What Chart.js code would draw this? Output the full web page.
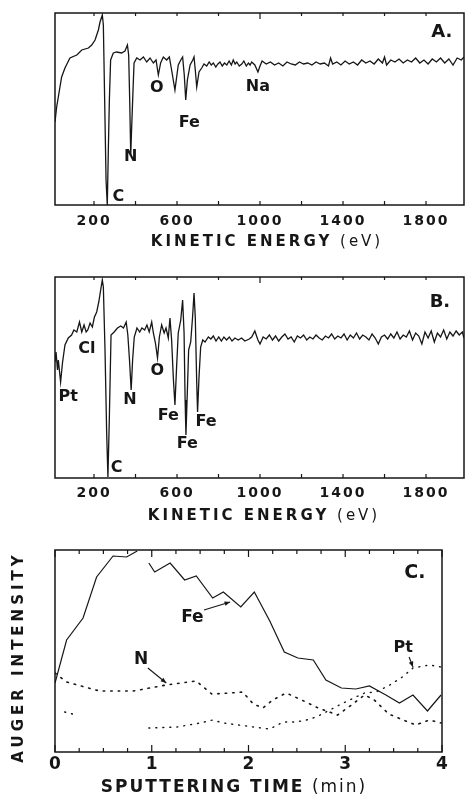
<!DOCTYPE html>
<html><head><meta charset="utf-8">
<script src="https://cdn.jsdelivr.net/npm/chart.js@4.4.1/dist/chart.umd.min.js"></script>
<style>
html,body{margin:0;padding:0;background:#fff;}
#wrap{position:relative;width:465px;height:794px;overflow:hidden;background:#fff;}
canvas{position:absolute;left:0;}
</style></head><body>
<div id="wrap">
<canvas id="cA" width="465" height="255" style="top:0px"></canvas>
<canvas id="cB" width="465" height="270" style="top:255px"></canvas>
<canvas id="cC" width="465" height="269" style="top:525px"></canvas>
</div>
<script>
// ---------------- DATA ----------------
const energyTicks = [200, 600, 1000, 1400, 1800];
const timeTicks = [0, 1, 2, 3, 4];

// Panel A spectrum (kinetic energy eV, dN/dE arbitrary units)
const energyA = [12,20,28,44,60,84,117,141,173,189,205,221,229,240,245,253,258,264,269,274,280,293,309,333,349,361,367,372,377,381,388,393,406,422,438,454,470,486,499,510,521,534,550,563,574,590,606,618,627,635,642,650,663,676,682,688,695,706,719,730,743,755,765,775,787,797,807,818,829,840,851,862,871,880,888,900,912,922,934,944,952,960,975,990,1000,1010,1030,1050,1070,1090,1110,1130,1150,1170,1190,1210,1230,1250,1270,1290,1310,1330,1340,1350,1370,1390,1410,1430,1450,1470,1490,1510,1530,1550,1570,1590,1600,1610,1630,1650,1670,1690,1710,1730,1750,1770,1790,1810,1830,1850,1870,1890,1910,1930,1950,1970,1983];
const intensityA = [83,98,108,128,137,147,150,155,157,160,165,175,183,190,180,85,25,0,55,105,145,152,153,152,154,160,150,105,50,75,115,142,147,145,148,143,147,142,145,130,142,148,145,148,135,115,140,145,148,130,105,125,140,145,148,135,118,133,137,141,139,143,140,142,138,141,143,139,142,140,144,140,145,141,143,139,141,144,139,142,140,143,140,133,139,144,141,143,140,142,139,143,141,140,143,141,142,140,143,141,142,139,147,141,143,140,144,141,143,140,145,142,144,141,146,142,148,140,145,143,146,142,145,143,147,142,145,141,146,143,147,142,146,140,147,145,148];

// Panel B spectrum
const energyB = [12,17,24,28,39,48,60,76,92,103,117,130,141,152,162,170,181,192,202,213,223,232,240,245,253,261,267,274,282,297,313,329,342,355,363,371,379,386,394,407,420,431,444,455,466,478,486,496,506,515,526,538,547,558,566,574,582,590,598,606,618,627,634,639,643,650,656,666,675,682,688,695,699,706,714,724,735,751,763,775,788,801,814,826,839,852,865,879,895,911,927,948,960,975,990,1000,1015,1030,1045,1060,1075,1090,1105,1120,1135,1150,1165,1180,1195,1210,1225,1240,1255,1270,1285,1300,1315,1330,1345,1360,1375,1390,1405,1420,1435,1450,1465,1480,1495,1510,1525,1540,1555,1570,1585,1600,1615,1630,1645,1660,1675,1690,1705,1720,1735,1750,1765,1780,1795,1810,1825,1840,1855,1870,1885,1900,1915,1930,1945,1960,1975,1983];
const intensityB = [116,126,108,118,96,115,133,140,143,148,146,156,146,153,146,148,155,151,161,166,176,188,198,191,128,45,1,61,143,146,150,152,150,156,143,118,88,118,141,150,146,150,148,153,146,156,145,135,120,141,153,145,150,140,160,138,101,73,111,145,158,178,145,78,43,88,128,136,161,185,161,95,66,101,131,138,136,141,139,142,137,141,137,141,138,141,137,140,138,140,137,139,141,147,138,134,141,139,143,138,142,137,141,144,139,141,136,142,140,143,138,141,139,143,140,138,142,140,144,139,142,140,144,138,143,140,145,139,143,141,138,144,140,134,141,143,139,144,140,146,139,143,141,147,138,145,142,134,146,140,147,136,145,141,148,139,146,142,147,143,146,140];

// Panel C depth profiles (sputtering time min, Auger intensity arbitrary units)
const timeFe = [0,0.12,0.29,0.43,0.60,0.74,0.85,0.91,0.97,1.03,1.19,1.34,1.46,1.63,1.74,1.92,2.06,2.22,2.37,2.51,2.67,2.80,2.96,3.11,3.25,3.42,3.56,3.70,3.85,3.99];
const feIntensity = [69,112,134,175,196,195,201,null,189,180,189,172,176,154,160,145,160,131,100,94,92,72,64,63,66,57,49,57,41,57];
const timeN = [0,0.12,0.46,0.81,1.15,1.46,1.62,1.81,1.94,2.05,2.15,2.25,2.39,2.55,2.72,2.92,3.05,3.20,3.30,3.45,3.60,3.73,3.87,3.99];
const nIntensity = [79,70,61,61,67,71,58,59,60,48,44,52,59,52,44,37,46,57,52,38,32,27,32,29];
const timePt = [0.10,0.18,0.50,0.97,1.26,1.50,1.63,1.74,1.90,2.05,2.22,2.36,2.49,2.60,2.70,2.84,2.98,3.11,3.20,3.32,3.46,3.59,3.70,3.87,3.99];
const ptIntensity = [40,38,null,24,25,29,32,29,27,25,23,30,30,32,35,42,49,55,59,60,67,75,84,87,85];

// ---------------- DRAWING ----------------
const INK = '#161616';
function pts(xs, ys){ return xs.map((x,i)=>({x:x, y:ys[i]})); }

const decor = {
  id: 'decor',
  beforeDraw(chart, args, o) {
    const ctx = chart.ctx;
    ctx.save(); ctx.fillStyle = '#fff'; ctx.fillRect(0,0,chart.width,chart.height); ctx.restore();
    try { ctx.letterSpacing = o.tickSpacing || '0px'; } catch(e) {}
  },
  afterDraw(chart, args, o) {
    const ctx = chart.ctx, a = chart.chartArea, xs = chart.scales.x, ys = chart.scales.y;
    ctx.save();
    try { ctx.letterSpacing = '0px'; } catch(e) {}
    ctx.strokeStyle = INK; ctx.fillStyle = INK;
    ctx.lineWidth = 1.5;
    ctx.strokeRect(a.left, a.top, a.right - a.left, a.bottom - a.top);
    // tick marks
    ctx.lineWidth = 1.2;
    (o.marks || []).forEach(m => {
      const x = xs.getPixelForValue(m.v);
      ctx.beginPath();
      if (m.b) { ctx.moveTo(x, a.bottom); ctx.lineTo(x, a.bottom - m.b); }
      if (m.t) { ctx.moveTo(x, a.top); ctx.lineTo(x, a.top + m.t); }
      ctx.stroke();
    });
    // peak labels
    ctx.textAlign = 'center'; ctx.textBaseline = 'middle';
    (o.labels || []).forEach(l => {
      ctx.font = 'bold ' + l.size + 'px "DejaVu Sans"';
      ctx.fillText(l.text, xs.getPixelForValue(l.x), ys.getPixelForValue(l.y));
    });
    // arrows
    ctx.lineWidth = 1.1;
    (o.arrows || []).forEach(r => {
      const x1 = xs.getPixelForValue(r.from[0]), y1 = ys.getPixelForValue(r.from[1]);
      const x2 = xs.getPixelForValue(r.to[0]), y2 = ys.getPixelForValue(r.to[1]);
      ctx.beginPath(); ctx.moveTo(x1,y1); ctx.lineTo(x2,y2); ctx.stroke();
      const ang = Math.atan2(y2-y1, x2-x1), L = 6, W = 0.4;
      ctx.beginPath();
      ctx.moveTo(x2,y2);
      ctx.lineTo(x2 - L*Math.cos(ang-W), y2 - L*Math.sin(ang-W));
      ctx.lineTo(x2 - L*Math.cos(ang+W), y2 - L*Math.sin(ang+W));
      ctx.closePath(); ctx.fill();
    });
    // axis titles
    const drawTitle = (t) => {
      ctx.save();
      ctx.translate(t.x, t.y);
      if (t.rot) ctx.rotate(t.rot);
      try { ctx.letterSpacing = t.spacing + 'px'; } catch(e) {}
      ctx.textAlign = 'left'; ctx.textBaseline = 'middle';
      let total = 0;
      t.parts.forEach(p => { ctx.font = p.weight + ' ' + t.size + 'px "DejaVu Sans"'; total += ctx.measureText(p.text).width; });
      let cx = -total/2;
      t.parts.forEach(p => { ctx.font = p.weight + ' ' + t.size + 'px "DejaVu Sans"'; ctx.fillText(p.text, cx, 0); cx += ctx.measureText(p.text).width; });
      ctx.restore();
    };
    (o.titles || []).forEach(drawTitle);
    ctx.restore();
  }
};

function makeChart(id, cfg) {
  const datasets = cfg.series.map(s => ({
    data: s.data, borderColor: INK, borderWidth: s.width || 1.3, borderDash: s.dash || [],
    borderCapStyle: s.dash ? 'round' : 'butt', pointRadius: 0, tension: 0, spanGaps: false, fill: false
  }));
  return new Chart(document.getElementById(id), {
    type: 'line',
    data: { datasets },
    plugins: [decor],
    options: {
      responsive: false, animation: false, devicePixelRatio: 1,
      layout: { padding: { left: cfg.left, right: cfg.W - cfg.right, top: cfg.top, bottom: 0 } },
      plugins: { legend: { display: false }, tooltip: { enabled: false }, decor: cfg.decor },
      scales: {
        x: {
          type: 'linear', min: cfg.xmin, max: cfg.xmax,
          grid: { display: false, drawTicks: false }, border: { display: false },
          afterBuildTicks: s => { s.ticks = cfg.tickValues.map(v => ({ value: v })); },
          afterFit: s => { s.height = cfg.H - cfg.bottom; },
          ticks: { color: INK, autoSkip: false, maxRotation: 0, padding: cfg.tickPad,
                   font: { family: 'DejaVu Sans', weight: 'bold', size: cfg.tickSize },
                   callback: v => String(v) }
        },
        y: { display: false, min: 0, max: cfg.ymax }
      }
    }
  });
}

function energyMarks() {
  const m = [];
  for (let v = 200; v <= 1800; v += 200) m.push({ v: v, b: 4, t: (v === 1000 ? 6 : 3) });
  return m;
}
function timeMarks() {
  const m = [];
  for (let k = 0; k <= 16; k++) { const v = k / 4; const big = (k % 4 === 0); m.push({ v: v, b: big ? 7 : 4, t: big ? 7 : 4 }); }
  return m;
}

// Panel A
makeChart('cA', {
  W: 465, H: 255, left: 55, right: 464, top: 13, bottom: 205,
  xmin: 12, xmax: 1983, ymax: 192, tickValues: energyTicks, tickSize: 14, tickPad: 8,
  series: [{ data: pts(energyA, intensityA) }],
  decor: {
    tickSpacing: '2px', marks: energyMarks(),
    labels: [
      { text: 'C', x: 317, y: 8, size: 16 }, { text: 'N', x: 377, y: 48, size: 16 },
      { text: 'O', x: 502, y: 117, size: 16 }, { text: 'Fe', x: 659, y: 82, size: 16 },
      { text: 'Na', x: 990, y: 118, size: 16 }, { text: 'A.', x: 1876, y: 173, size: 18 }
    ],
    titles: [{ x: 267, y: 242, size: 15, spacing: 3,
      parts: [{ text: 'KINETIC ENERGY', weight: 'bold' }, { text: ' (eV)', weight: 'normal' }] }]
  }
});

// Panel B
makeChart('cB', {
  W: 465, H: 270, left: 55, right: 464, top: 22, bottom: 223,
  xmin: 12, xmax: 1983, ymax: 201, tickValues: energyTicks, tickSize: 14, tickPad: 7,
  series: [{ data: pts(energyB, intensityB) }],
  decor: {
    tickSpacing: '2px', marks: energyMarks(),
    labels: [
      { text: 'Pt', x: 76, y: 81, size: 16 }, { text: 'Cl', x: 165, y: 129, size: 16 },
      { text: 'C', x: 309, y: 10, size: 16 }, { text: 'N', x: 373, y: 78, size: 16 },
      { text: 'O', x: 505, y: 107, size: 16 }, { text: 'Fe', x: 558, y: 62, size: 16 },
      { text: 'Fe', x: 650, y: 34, size: 16 }, { text: 'Fe', x: 740, y: 56, size: 16 },
      { text: 'B.', x: 1867, y: 176, size: 18 }
    ],
    titles: [{ x: 264, y: 261, size: 15, spacing: 3,
      parts: [{ text: 'KINETIC ENERGY', weight: 'bold' }, { text: ' (eV)', weight: 'normal' }] }]
  }
});

// Panel C
makeChart('cC', {
  W: 465, H: 269, left: 55, right: 442, top: 25, bottom: 227,
  xmin: 0, xmax: 4, ymax: 202, tickValues: timeTicks, tickSize: 17, tickPad: 2,
  series: [
    { data: pts(timeFe, feIntensity), width: 1.2 },
    { data: pts(timeN, nIntensity), width: 1.6, dash: [1.5, 6] },
    { data: pts(timePt, ptIntensity), width: 1.4, dash: [1, 6] }
  ],
  decor: {
    tickSpacing: '0px', marks: timeMarks(),
    labels: [
      { text: 'C.', x: 3.72, y: 179, size: 19 },
      { text: 'Fe', x: 1.42, y: 134, size: 17 },
      { text: 'N', x: 0.89, y: 92, size: 17 },
      { text: 'Pt', x: 3.60, y: 104, size: 16 }
    ],
    arrows: [
      { from: [1.54, 142], to: [1.81, 150] },
      { from: [0.96, 84], to: [1.15, 69] },
      { from: [3.66, 95], to: [3.70, 85] }
    ],
    titles: [
      { x: 234, y: 263, size: 17, spacing: 2,
        parts: [{ text: 'SPUTTERING TIME', weight: 'bold' }, { text: ' (min)', weight: 'normal' }] },
      { x: 19, y: 132, size: 15, spacing: 4, rot: -Math.PI / 2,
        parts: [{ text: 'AUGER INTENSITY', weight: 'bold' }] }
    ]
  }
});
</script>
</body></html>
